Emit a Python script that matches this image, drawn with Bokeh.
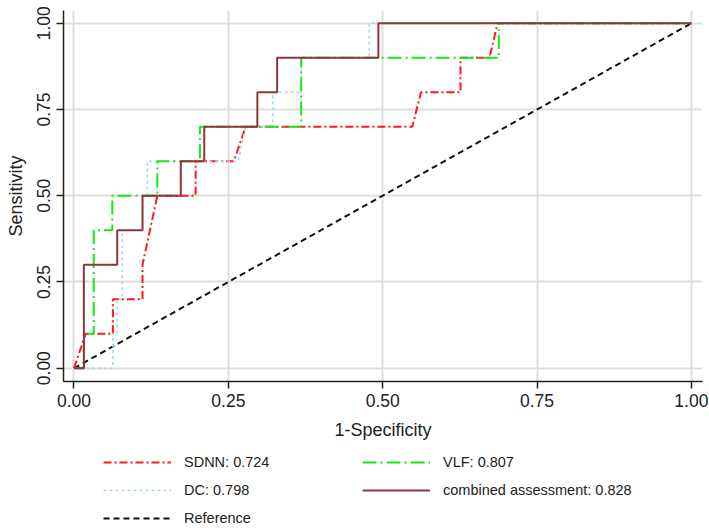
from bokeh.plotting import figure
from bokeh.models import Range1d, Legend, LegendItem, FixedTicker
from bokeh.layouts import column
from bokeh.embed import file_html
from bokeh.resources import INLINE

# ROC data (1-Specificity, Sensitivity)
sdnn_x = [0, 0.019, 0.063, 0.063, 0.111, 0.111, 0.135, 0.197, 0.197, 0.259, 0.278, 0.548, 0.562, 0.626, 0.626, 0.673, 0.686, 1.0]
sdnn_y = [0, 0.1, 0.1, 0.2, 0.2, 0.3, 0.5, 0.5, 0.6, 0.6, 0.7, 0.7, 0.8, 0.8, 0.9, 0.9, 1.0, 1.0]

dc_x = [0, 0.063, 0.063, 0.070, 0.070, 0.078, 0.078, 0.111, 0.111, 0.119, 0.119, 0.266, 0.278, 0.322, 0.322, 0.368, 0.368, 0.478, 0.478, 1.0]
dc_y = [0, 0, 0.1, 0.1, 0.2, 0.2, 0.4, 0.4, 0.5, 0.5, 0.6, 0.6, 0.7, 0.7, 0.8, 0.8, 0.9, 0.9, 1.0, 1.0]

vlf_x = [0, 0.016, 0.016, 0.032, 0.032, 0.062, 0.062, 0.135, 0.135, 0.204, 0.204, 0.368, 0.368, 0.688, 0.688, 1.0]
vlf_y = [0, 0, 0.1, 0.1, 0.4, 0.4, 0.5, 0.5, 0.6, 0.6, 0.7, 0.7, 0.9, 0.9, 1.0, 1.0]

comb_x = [0, 0.016, 0.016, 0.070, 0.070, 0.111, 0.111, 0.173, 0.173, 0.211, 0.211, 0.297, 0.297, 0.329, 0.329, 0.493, 0.493, 1.0]
comb_y = [0, 0, 0.3, 0.3, 0.4, 0.4, 0.5, 0.5, 0.6, 0.6, 0.7, 0.7, 0.8, 0.8, 0.9, 0.9, 1.0, 1.0]

ref_x = [0, 1]
ref_y = [0, 1]

ticks = [0, 0.25, 0.5, 0.75, 1.0]
tick_labels = {0: "0.00", 0.25: "0.25", 0.5: "0.50", 0.75: "0.75", 1.0: "1.00"}

labels = ["SDNN: 0.724", "DC: 0.798", "Reference", "VLF: 0.807", "combined assessment: 0.828"]

FONT = "Liberation Sans"
TXT = "#222222"

p = figure(width=709, height=442, output_backend="svg", toolbar_location=None,
           x_range=Range1d(-0.017, 1.018), y_range=Range1d(-0.0386, 1.037),
           min_border_left=63, min_border_right=7, min_border_top=10, min_border_bottom=61)
p.outline_line_color = None
p.background_fill_color = "white"

for ax in (p.xaxis[0], p.yaxis[0]):
    ax.ticker = FixedTicker(ticks=ticks)
    ax.major_label_overrides = tick_labels
    ax.minor_tick_line_color = None
    ax.major_tick_out = 7
    ax.major_tick_in = 0
    ax.axis_line_color = TXT
    ax.axis_line_width = 1.5
    ax.major_tick_line_color = TXT
    ax.major_tick_line_width = 1.5
    ax.major_label_text_font = FONT
    ax.major_label_text_font_size = "17.5px"
    ax.major_label_text_color = TXT
    ax.axis_label_text_font = FONT
    ax.axis_label_text_font_size = "18px"
    ax.axis_label_text_font_style = "normal"
    ax.axis_label_text_color = TXT

p.xaxis.axis_label = "1-Specificity"
p.yaxis.axis_label = "Sensitivity"
p.yaxis.major_label_orientation = "vertical"
p.xaxis.major_label_standoff = 5
p.xaxis.axis_label_standoff = 10
p.yaxis.major_label_standoff = 6
p.yaxis.axis_label_standoff = 9

for g in (p.xgrid[0], p.ygrid[0]):
    g.ticker = FixedTicker(ticks=ticks)
    g.grid_line_color = "#dedede"
    g.grid_line_width = 2

STY = {
    "ref": dict(line_color="#111111", line_width=2, line_dash="6 4"),
    "sdnn": dict(line_color="#ff1a1a", line_width=2, line_dash="8 3 2 3"),
    "dc": dict(line_color="#a9d8ec", line_width=1.6, line_dash="3 3"),
    "vlf": dict(line_color="#19e619", line_width=2, line_dash="14 4 2 4"),
    "comb": dict(line_color="#90353b", line_width=2),
}
DATA = {
    "ref": (ref_x, ref_y),
    "sdnn": (sdnn_x, sdnn_y),
    "dc": (dc_x, dc_y),
    "vlf": (vlf_x, vlf_y),
    "comb": (comb_x, comb_y),
}

for k in ["ref", "sdnn", "dc", "vlf", "comb"]:
    p.line(*DATA[k], **STY[k])

# legend panel below the chart (its ranges keep the series out of view; only the key shows)
lg = figure(width=709, height=86, output_backend="svg", toolbar_location=None,
            x_range=Range1d(5, 6), y_range=Range1d(5, 6),
            x_axis_type=None, y_axis_type=None, min_border=0)
lg.outline_line_color = None
lg.grid.visible = False
keys = ["sdnn", "dc", "ref", "vlf", "comb"]
items = []
for l, k in zip(labels, keys):
    r = lg.line(*DATA[k], **STY[k])
    items.append(LegendItem(label=l, renderers=[r]))
legend = Legend(items=items, orientation="vertical", ncols=2, location=(40, 0),
                label_text_font=FONT, label_text_font_size="14.5px", label_text_color=TXT,
                glyph_width=68, glyph_height=20, label_height=20, label_standoff=13,
                label_width=170, spacing=8, padding=0, margin=0,
                border_line_color=None, background_fill_alpha=0)
lg.add_layout(legend, "center")

open("out.html", "w").write(file_html(column(p, lg, spacing=0), INLINE))
